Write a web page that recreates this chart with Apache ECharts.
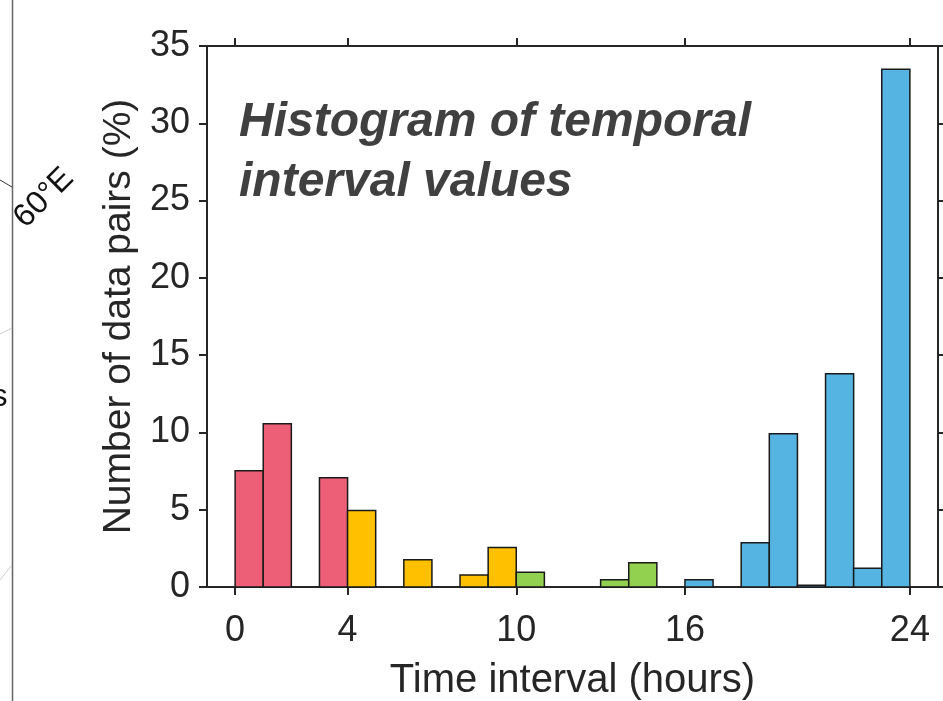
<!DOCTYPE html>
<html>
<head>
<meta charset="utf-8">
<script src="https://cdn.jsdelivr.net/npm/echarts@6/dist/echarts.min.js"></script>
<style>html,body{margin:0;padding:0;background:#fff;}#chart{width:943px;height:701px;}</style>
</head>
<body>
<div id="chart"></div>
<script>
// Histogram bins: start hour of each 1-hour bin
const binStarts = [0,1,2,3,4,5,6,7,8,9,10,11,12,13,14,15,16,17,18,19,20,21,22,23];
// Percent of data pairs in each bin
const binValues = [7.52,10.56,0,7.06,4.95,0,1.77,0,0.78,2.55,0.95,0,0,0.47,1.57,0,0.47,0,2.86,9.92,0.12,13.8,1.21,33.5];
// Colour group of each bin
const binGroups = ['r','r','r','r','y','y','y','y','y','y','g','g','g','g','g','g','b','b','b','b','b','b','b','b'];
const groupColors = {r:'#EC5F76', y:'#FFC000', g:'#92D050', b:'#56B4E2'};
const xTicks = [0,4,10,16,24];
const yTicks = [0,5,10,15,20,25,30,35];
const titleText = 'Histogram of temporal\ninterval values';
const xName = 'Time interval (hours)';
const yName = 'Number of data pairs (%)';

const axisColor = '#262626';
const textColor = '#262626';
const font = 'Liberation Sans, Arial, sans-serif';

const chart = echarts.init(document.getElementById('chart'));
const data = binStarts.map((s,i)=>[s, s+1, binValues[i], binGroups[i]]);

const baseX = {
  type:'value', min:-1, max:25,
  splitLine:{show:false},
  axisLine:{show:true, onZero:false, lineStyle:{color:axisColor, width:2}},
  axisTick:{show:true, inside:false, length:8, customValues:xTicks, lineStyle:{color:axisColor, width:2}},
};
const baseY = {
  type:'value', min:0, max:35, interval:5,
  splitLine:{show:false},
  axisLine:{show:true, onZero:false, lineStyle:{color:axisColor, width:2}},
  axisTick:{show:true, inside:false, length:8, customValues:yTicks, lineStyle:{color:axisColor, width:2}},
};

chart.setOption({
  animation:false,
  backgroundColor:'#fff',
  grid:{left:207, right:5, top:46, bottom:114, containLabel:false, outerBoundsMode:'none'},
  xAxis:[
    Object.assign({}, baseX, {
      position:'bottom',
      name:xName, nameLocation:'middle', nameGap:74,
      nameTextStyle:{color:textColor, fontSize:40, fontFamily:font},
      axisLabel:{show:true, customValues:xTicks, color:textColor, fontSize:36, fontFamily:font, margin:26}
    }),
    Object.assign({}, baseX, {position:'top', axisLabel:{show:false}})
  ],
  yAxis:[
    Object.assign({}, baseY, {
      position:'left',
      name:yName, nameLocation:'middle', nameGap:66,
      nameTextStyle:{color:textColor, fontSize:39, fontFamily:font},
      axisLabel:{show:true, customValues:yTicks, color:textColor, fontSize:36, fontFamily:font, margin:17}
    }),
    Object.assign({}, baseY, {position:'right', axisLabel:{show:false}})
  ],
  title:{
    text:titleText, left:234, top:88,
    textStyle:{color:'#404040', fontSize:48, fontWeight:'bold', fontStyle:'italic', fontFamily:font, lineHeight:60}
  },
  series:[{
    type:'custom',
    xAxisIndex:0, yAxisIndex:0,
    data:data,
    encode:{x:[0,1], y:2},
    renderItem:function(params, api){
      const x0 = api.value(0), x1 = api.value(1), v = api.value(2);
      if (v <= 0) return null;
      const p0 = api.coord([x0, v]);
      const p1 = api.coord([x1, 0]);
      const g = data[params.dataIndex][3];
      return {
        type:'rect',
        shape:{x:p0[0], y:p0[1], width:p1[0]-p0[0], height:p1[1]-p0[1]},
        style:{fill:groupColors[g], stroke:'#1a1a1a', lineWidth:1.5}
      };
    }
  }],
  graphic:[
    {type:'line', shape:{x1:12.5,y1:0,x2:12.5,y2:701}, style:{stroke:'#666', lineWidth:1.5}, silent:true},
    {type:'line', shape:{x1:0,y1:180,x2:12,y2:187}, style:{stroke:'#333', lineWidth:1}, silent:true},
    {type:'line', shape:{x1:0,y1:334,x2:12,y2:328}, style:{stroke:'#ccc', lineWidth:1}, silent:true},
    {type:'line', shape:{x1:0,y1:580,x2:12,y2:565}, style:{stroke:'#ccc', lineWidth:1}, silent:true},
    {type:'text', x:44, y:198, rotation:Math.PI/4,
      style:{text:'60°E', fill:'#111', fontSize:32, fontFamily:font, align:'center', verticalAlign:'middle'}, silent:true},
    {type:'text', x:-8, y:397,
      style:{text:'s', fill:'#111', fontSize:31, fontFamily:font, align:'left', verticalAlign:'middle'}, silent:true},
    {type:'line', shape:{x1:938,y1:46,x2:943,y2:46}, style:{stroke:axisColor, lineWidth:2}, silent:true},
    {type:'line', shape:{x1:938,y1:587,x2:943,y2:587}, style:{stroke:axisColor, lineWidth:2}, silent:true}
  ]
});
</script>
</body>
</html>
